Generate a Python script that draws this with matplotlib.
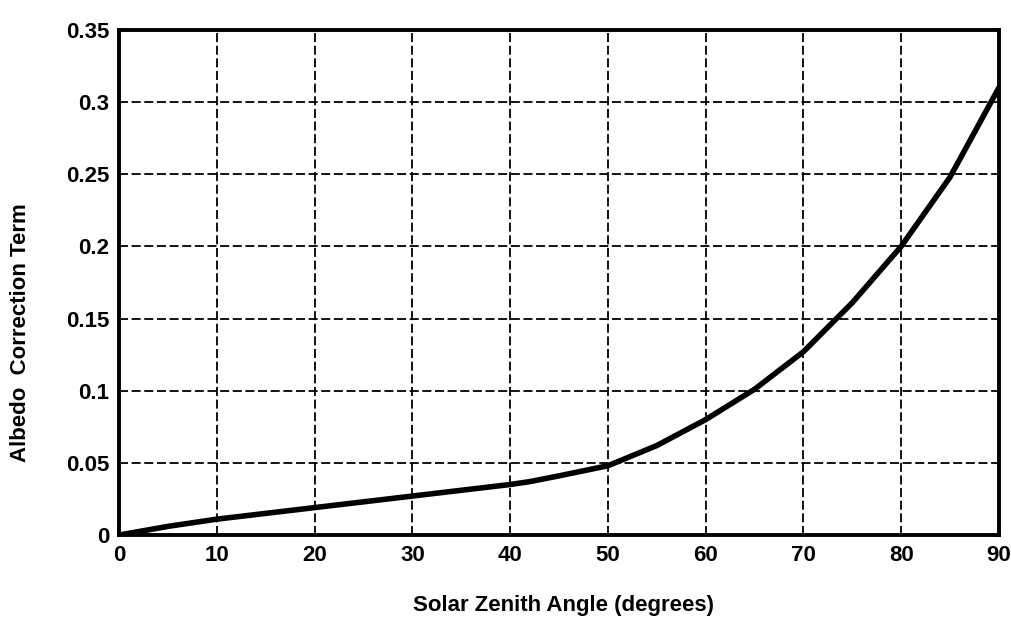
import matplotlib
matplotlib.use('Agg')
import matplotlib.pyplot as plt

# Albedo correction term vs solar zenith angle
zenith = [0, 5, 10, 15, 20, 25, 30, 35, 40, 42, 45, 50, 55, 60, 65, 70, 75, 80, 85, 90]
albedo = [0.0, 0.006, 0.011, 0.015, 0.019, 0.023, 0.027, 0.031, 0.035, 0.037,
          0.041, 0.048, 0.062, 0.080, 0.101, 0.127, 0.161, 0.200, 0.248, 0.31]

x_ticks = [0, 10, 20, 30, 40, 50, 60, 70, 80, 90]
y_ticks = [0, 0.05, 0.1, 0.15, 0.2, 0.25, 0.3, 0.35]
y_tick_labels = ['0', '0.05', '0.1', '0.15', '0.2', '0.25', '0.3', '0.35']

plt.rcParams['font.family'] = ['Liberation Sans', 'DejaVu Sans']

fig = plt.figure(figsize=(10.11, 6.25), dpi=100)
ax = fig.add_axes([0.118, 0.144, 0.870, 0.808])

ax.plot(zenith, albedo, color='black', linewidth=4, solid_capstyle='round')

ax.set_xlim(0, 90)
ax.set_ylim(0, 0.35)
ax.set_xticks(x_ticks)
ax.set_yticks(y_ticks)
ax.set_yticklabels(y_tick_labels)
ax.tick_params(length=0, labelsize=16, pad=7)
for lbl in ax.get_xticklabels() + ax.get_yticklabels():
    lbl.set_fontweight('bold')

ax.grid(True, color='black', linestyle=(0, (5, 2)), linewidth=1.3)
for s in ax.spines.values():
    s.set_linewidth(2.8)

ax.set_xlabel('Solar Zenith Angle (degrees)', fontsize=16, fontweight='bold')
ax.set_ylabel('Albedo  Correction Term', fontsize=16, fontweight='bold')
ax.xaxis.set_label_coords(0.505, -0.118)
ax.yaxis.set_label_coords(-0.100, 0.40)

fig.savefig('out.png', dpi=100)
